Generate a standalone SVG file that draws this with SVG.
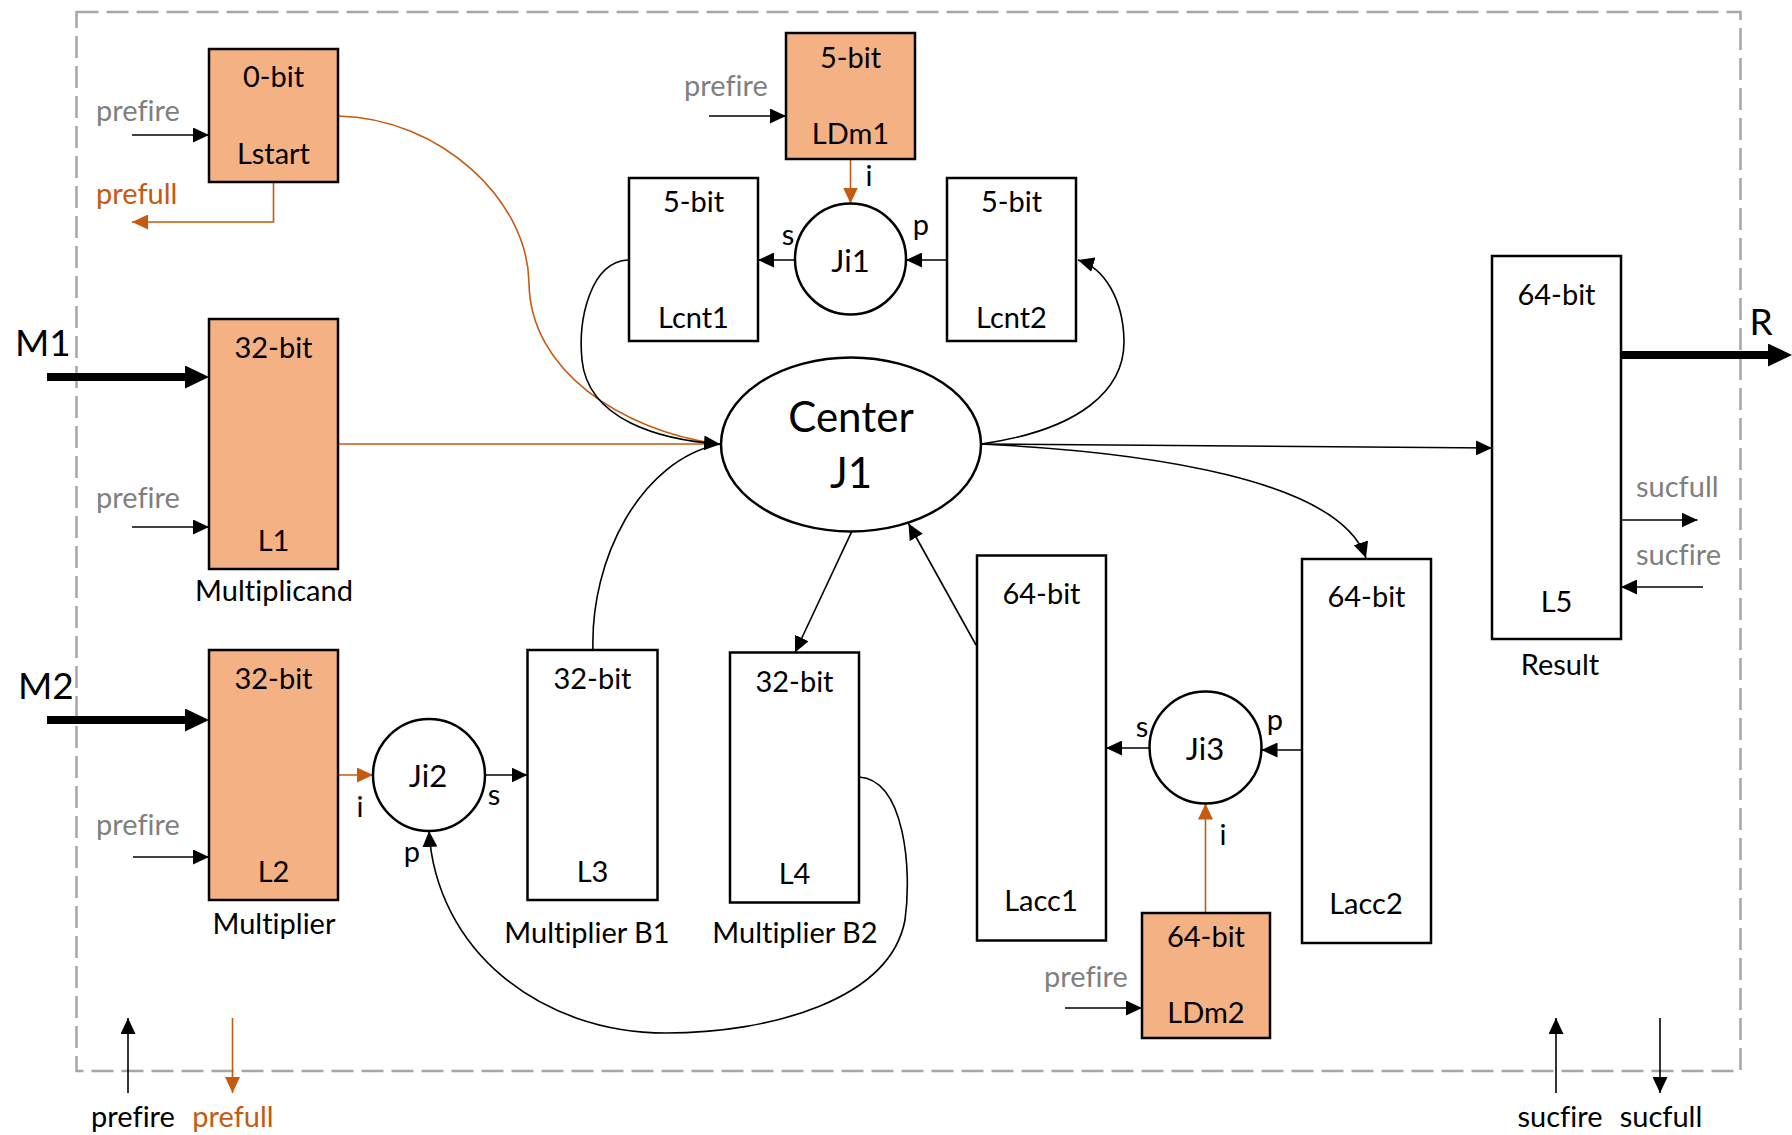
<svg xmlns="http://www.w3.org/2000/svg" width="1792" height="1135" viewBox="0 0 1792 1135">
<style>
text{font-family:Lato,"Liberation Sans",sans-serif;font-size:29px;fill:#000;text-anchor:middle;font-variant-ligatures:none;font-feature-settings:"liga" 0}
.g{fill:#7F7F7F}
.o{fill:#C55A11}
.st{text-anchor:start}
.big{font-size:42px}
.ji{font-size:31px}
.pt{font-size:29px}
.io{font-size:37px}
.box{stroke:#000;stroke-width:2.5}
.reg{fill:#F4B183}
.wht{fill:#fff}
.c{fill:none;stroke:#000;stroke-width:1.6}
.co{fill:none;stroke:#C55A11;stroke-width:1.6}
.th{fill:none;stroke:#000;stroke-width:8}
</style>
<defs>
<marker id="a" markerUnits="userSpaceOnUse" viewBox="0 0 16 15" markerWidth="16" markerHeight="15" refX="16" refY="7.5" orient="auto"><path d="M0,0L16,7.5L0,15z" fill="#000"/></marker>
<marker id="ao" markerUnits="userSpaceOnUse" viewBox="0 0 16 15" markerWidth="16" markerHeight="15" refX="16" refY="7.5" orient="auto"><path d="M0,0L16,7.5L0,15z" fill="#C55A11"/></marker>
<marker id="at" markerUnits="userSpaceOnUse" viewBox="0 0 24 23" markerWidth="24" markerHeight="23" refX="4" refY="11.5" orient="auto"><path d="M0,0L24,11.5L0,23z" fill="#000"/></marker>
</defs>
<rect width="1792" height="1135" fill="#fff"/>
<rect id="boundary" x="76.5" y="12" width="1664" height="1059" fill="none" stroke="#A6A6A6" stroke-width="2.5" stroke-dasharray="22 8"/>

<g id="connectors">
<path class="th" d="M47,377H189" marker-end="url(#at)"/>
<path class="th" d="M47,720H189" marker-end="url(#at)"/>
<path class="th" d="M1621,355H1772" marker-end="url(#at)"/>
<path class="c" d="M132,135H209" marker-end="url(#a)"/>
<path class="c" d="M132,527H209" marker-end="url(#a)"/>
<path class="c" d="M133,857H209" marker-end="url(#a)"/>
<path class="c" d="M709,116H786" marker-end="url(#a)"/>
<path class="c" d="M1065,1008H1142" marker-end="url(#a)"/>
<path class="co" d="M273.5,182V222H132" marker-end="url(#ao)"/>
<path class="co" d="M850.5,159V203.5" marker-end="url(#ao)"/>
<path class="c" d="M795,260H758" marker-end="url(#a)"/>
<path class="c" d="M947,260H906" marker-end="url(#a)"/>
<path class="co" d="M338,116C440,118 528,200 529,283C530,370 620,430 718,444"/>
<path class="co" d="M338,444H718"/>
<path class="c" d="M593,650C590,560 640,460 720,444"/>
<path class="c" d="M628,260C590,262 578,320 582,360C588,420 660,440 720,444" marker-end="url(#a)"/>
<path class="c" d="M981,444C1080,430 1125,390 1124,340C1123,300 1105,268 1078,260" marker-end="url(#a)"/>
<path class="c" d="M981,444L1492,448" marker-end="url(#a)"/>
<path class="c" d="M981,444C1150,452 1340,480 1366,558" marker-end="url(#a)"/>
<path class="c" d="M851.7,531.7L795,652.5" marker-end="url(#a)"/>
<path class="c" d="M976,645L908.5,523.5" marker-end="url(#a)"/>
<path class="co" d="M338,775H373" marker-end="url(#ao)"/>
<path class="c" d="M485,775H527.5" marker-end="url(#a)"/>
<path class="c" d="M859,777C905,780 912,870 905,920C890,1000 770,1033 666,1033C540,1033 436,950 429,831" marker-end="url(#a)"/>
<path class="c" d="M1149.5,748H1106" marker-end="url(#a)"/>
<path class="c" d="M1302,750H1261.5" marker-end="url(#a)"/>
<path class="co" d="M1205.5,913V803.5" marker-end="url(#ao)"/>
<path class="c" d="M1621,520H1697.5" marker-end="url(#a)"/>
<path class="c" d="M1703,587H1621" marker-end="url(#a)"/>
<path class="c" d="M128,1093V1018" marker-end="url(#a)"/>
<path class="co" d="M232.5,1018V1093" marker-end="url(#ao)"/>
<path class="c" d="M1556,1093V1018" marker-end="url(#a)"/>
<path class="c" d="M1660,1018V1093" marker-end="url(#a)"/>
</g>

<g id="Lstart"><rect class="box reg" x="209" y="49" width="129" height="133"/><text x="273.5" y="87">0-bit</text><text x="273.5" y="164">Lstart</text></g>
<g id="L1"><rect class="box reg" x="209" y="319" width="129" height="250"/><text x="273.5" y="358">32-bit</text><text x="273.5" y="551">L1</text><text x="274" y="601">Multiplicand</text></g>
<g id="L2"><rect class="box reg" x="209" y="650" width="129" height="250"/><text x="273.5" y="689">32-bit</text><text x="273.5" y="882">L2</text><text x="274" y="934">Multiplier</text></g>
<g id="LDm1"><rect class="box reg" x="786" y="33" width="129" height="126"/><text x="850.5" y="68">5-bit</text><text x="850.5" y="144">LDm1</text></g>
<g id="Lcnt1"><rect class="box wht" x="629" y="178" width="129" height="163"/><text x="693.5" y="212">5-bit</text><text x="693.5" y="328">Lcnt1</text></g>
<g id="Lcnt2"><rect class="box wht" x="947" y="178" width="129" height="163"/><text x="1011.5" y="212">5-bit</text><text x="1011.5" y="328">Lcnt2</text></g>
<g id="Ji1"><circle class="box wht" cx="850.5" cy="259" r="55.5"/><text class="ji" x="850.5" y="272">Ji1</text></g>
<g id="CenterJ1"><ellipse class="box wht" cx="851" cy="444.5" rx="130" ry="87"/><text class="big" x="851" y="432">Center</text><text class="big" x="851" y="488">J1</text></g>
<g id="Ji2"><circle class="box wht" cx="429" cy="775" r="56"/><text class="ji" x="428" y="787">Ji2</text></g>
<g id="L3"><rect class="box wht" x="527.5" y="650" width="130" height="250"/><text x="592.5" y="689">32-bit</text><text x="592.5" y="882">L3</text><text x="587" y="943">Multiplier B1</text></g>
<g id="L4"><rect class="box wht" x="730" y="652.5" width="129" height="250"/><text x="794.5" y="692">32-bit</text><text x="794.5" y="884">L4</text><text x="795" y="943">Multiplier B2</text></g>
<g id="Lacc1"><rect class="box wht" x="977" y="555.5" width="129" height="385"/><text x="1041.5" y="604">64-bit</text><text x="1041" y="911">Lacc1</text></g>
<g id="Lacc2"><rect class="box wht" x="1302" y="559" width="129" height="384"/><text x="1366.5" y="607">64-bit</text><text x="1366" y="914">Lacc2</text></g>
<g id="Ji3"><circle class="box wht" cx="1205.5" cy="747.5" r="56"/><text class="ji" x="1205" y="760">Ji3</text></g>
<g id="LDm2"><rect class="box reg" x="1142" y="913" width="128" height="125"/><text x="1206" y="947">64-bit</text><text x="1206" y="1023">LDm2</text></g>
<g id="L5"><rect class="box wht" x="1492" y="256" width="129" height="383"/><text x="1556.5" y="305">64-bit</text><text x="1556.5" y="612">L5</text><text x="1560" y="675">Result</text></g>

<g id="labels">
<text class="g st" x="96" y="121">prefire</text>
<text class="g st" x="96" y="508">prefire</text>
<text class="g st" x="96" y="835">prefire</text>
<text class="g st" x="684" y="96">prefire</text>
<text class="g st" x="1044" y="987">prefire</text>
<text class="o st" x="96" y="204">prefull</text>
<text class="g st" x="1636" y="497">sucfull</text>
<text class="g st" x="1636" y="565">sucfire</text>
<text x="133" y="1127">prefire</text>
<text class="o" x="233" y="1127">prefull</text>
<text x="1560" y="1127">sucfire</text>
<text x="1661" y="1127">sucfull</text>
<text class="io st" x="15" y="356">M1</text>
<text class="io st" x="18" y="699">M2</text>
<text class="io" x="1761" y="335">R</text>
<text class="pt" x="869" y="186">i</text>
<text class="pt" x="788" y="245">s</text>
<text class="pt" x="921" y="235">p</text>
<text class="pt" x="360" y="817">i</text>
<text class="pt" x="494" y="805">s</text>
<text class="pt" x="412" y="862">p</text>
<text class="pt" x="1142" y="737">s</text>
<text class="pt" x="1275" y="730">p</text>
<text class="pt" x="1223" y="845">i</text>
</g>
</svg>
